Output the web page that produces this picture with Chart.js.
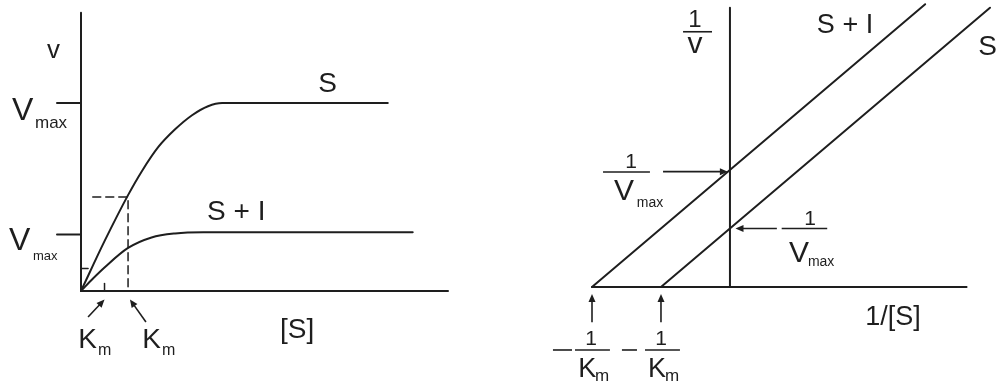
<!DOCTYPE html>
<html>
<head>
<meta charset="utf-8">
<script src="https://cdn.jsdelivr.net/npm/chart.js@4/dist/chart.umd.min.js"></script>
<style>
  html, body { margin: 0; padding: 0; background: #fff; }
  #wrap { position: relative; width: 997px; height: 391px; overflow: hidden; }
  canvas { position: absolute; top: 0; }
  #mm { left: 0; }
  #lb { left: 500px; }
</style>
</head>
<body>
<div id="wrap">
  <canvas id="mm" width="500" height="391"></canvas>
  <canvas id="lb" width="497" height="391"></canvas>
</div>
<script>
'use strict';

// Michaelis-Menten traces: [S] against v, with and without inhibitor
var substrate = [0, 0.5, 1, 1.3, 1.64, 2, 2.36, 2.7, 3.0, 6.52];
var rateS = [0, 0.265, 0.51, 0.64, 0.765, 0.86, 0.935, 0.983, 1.0, 1.0];
var substrateI = [0, 0.25, 0.5, 1, 1.5, 2, 2.6, 7.05];
var rateSI = [0, 0.065, 0.125, 0.229, 0.285, 0.306, 0.312, 0.312];

// kinetic constants marked on the axes (S, S + I)
var vmax = [1, 0.3];
var km = [1, 0.5];

// Lineweaver-Burk lines: 1/[S] against 1/v
var recipS = [-1, 3.77];
var recipRateS = [0, 4.77];
var recipSI = [-2, 2.83];
var recipRateSI = [0, 4.83];
var recipVmax = [1, 2];
var negRecipKm = [-1, -2];

var INK = '#1e1e1e';
var FONT = '"Liberation Sans", Arial, Helvetica, sans-serif';

function pts(xs, ys) {
  return xs.map(function (x, i) { return { x: x, y: ys[i] }; });
}

function seg(data, opts) {
  var ds = {
    data: data,
    showLine: true,
    borderColor: INK,
    borderWidth: 2,
    pointRadius: 0,
    fill: false,
    clip: false,
  };
  if (opts) Object.keys(opts).forEach(function (k) { ds[k] = opts[k]; });
  return ds;
}

function text(ctx, str, x, y, size, align) {
  ctx.font = size + 'px ' + FONT;
  ctx.textAlign = align || 'left';
  ctx.textBaseline = 'alphabetic';
  ctx.fillStyle = INK;
  ctx.fillText(str, x, y);
}

function line(ctx, x1, y1, x2, y2, w) {
  ctx.beginPath();
  ctx.moveTo(x1, y1);
  ctx.lineTo(x2, y2);
  ctx.lineWidth = w || 1.6;
  ctx.strokeStyle = INK;
  ctx.stroke();
}

function arrow(ctx, x1, y1, x2, y2) {
  var a = Math.atan2(y2 - y1, x2 - x1);
  var len = 8, half = 3.5;
  line(ctx, x1, y1, x2 - Math.cos(a) * len * 0.6, y2 - Math.sin(a) * len * 0.6, 1.6);
  ctx.beginPath();
  ctx.moveTo(x2, y2);
  ctx.lineTo(x2 - Math.cos(a) * len - Math.sin(a) * half, y2 - Math.sin(a) * len + Math.cos(a) * half);
  ctx.lineTo(x2 - Math.cos(a) * len + Math.sin(a) * half, y2 - Math.sin(a) * len - Math.cos(a) * half);
  ctx.closePath();
  ctx.fillStyle = INK;
  ctx.fill();
}

function baseOptions(pad, xr, yr) {
  return {
    responsive: false,
    animation: false,
    events: [],
    layout: { padding: pad },
    elements: { line: { borderCapStyle: 'round' } },
    scales: {
      x: { type: 'linear', min: xr[0], max: xr[1], display: false },
      y: { type: 'linear', min: yr[0], max: yr[1], display: false },
    },
    plugins: { legend: { display: false }, tooltip: { enabled: false } },
  };
}

// ---- left: v against [S] ----
var mmLabels = {
  id: 'mmLabels',
  afterDraw: function (chart) {
    var ctx = chart.ctx;
    var px = function (v) { return chart.scales.x.getPixelForValue(v); };
    var py = function (v) { return chart.scales.y.getPixelForValue(v); };
    ctx.save();
    text(ctx, 'v', px(-0.72), py(1.24), 26);
    text(ctx, 'S', px(5.04), py(1.06), 28);
    text(ctx, 'S + I', px(2.68), py(0.38), 28);
    text(ctx, '[S]', px(4.23), py(-0.25), 28);

    text(ctx, 'V', px(-1.467), py(0.91), 32);
    text(ctx, 'max', px(-0.978), py(0.867), 17);
    text(ctx, 'V', px(-1.53), py(0.218), 32);
    text(ctx, 'max', px(-1.02), py(0.165), 13);

    text(ctx, 'K', px(-0.06), py(-0.303), 28);
    text(ctx, 'm', px(0.36), py(-0.34), 16);
    text(ctx, 'K', px(1.3), py(-0.303), 28);
    text(ctx, 'm', px(1.72), py(-0.34), 16);

    arrow(ctx, px(0.15), py(-0.138), px(km[1]), py(-0.045));
    arrow(ctx, px(1.38), py(-0.165), px(km[0] + 0.04), py(-0.045));
    ctx.restore();
  },
};

new Chart(document.getElementById('mm'), {
  type: 'scatter',
  data: {
    datasets: [
      seg(pts([0, 0], [0, 1.48])),
      seg(pts([0, 7.8], [0, 0])),
      seg(pts([-0.51, 0], [vmax[0], vmax[0]])),
      seg(pts([-0.51, 0], [vmax[1], vmax[1]])),
      seg(pts([0, 0.15], [0.12, 0.12]), { borderWidth: 1.5 }),
      seg(pts([km[1], km[1]], [0, 0.04]), { borderWidth: 1.5 }),
      seg(pts([0.25, km[0], km[0]], [vmax[0] / 2, vmax[0] / 2, 0]), { borderWidth: 1.5, borderDash: [8, 5] }),
      seg(pts(substrate, rateS), { cubicInterpolationMode: 'monotone' }),
      seg(pts(substrateI, rateSI), { cubicInterpolationMode: 'monotone' }),
    ],
  },
  options: baseOptions({ left: 81, right: 52, top: 9, bottom: 100 }, [0, 7.8], [0, 1.5]),
  plugins: [mmLabels],
});

// ---- right: double reciprocal plot ----
var lbLabels = {
  id: 'lbLabels',
  afterDraw: function (chart) {
    var ctx = chart.ctx;
    var px = function (v) { return chart.scales.x.getPixelForValue(v); };
    var py = function (v) { return chart.scales.y.getPixelForValue(v); };
    ctx.save();
    // 1/v
    text(ctx, '1', px(-0.507), py(4.44), 24, 'center');
    line(ctx, px(-0.68), py(4.36), px(-0.26), py(4.36));
    text(ctx, 'v', px(-0.507), py(4.0), 30, 'center');

    text(ctx, 'S + I', px(1.26), py(4.34), 27);
    text(ctx, 'S', px(3.6), py(3.97), 28);
    text(ctx, '1/[S]', px(1.96), py(-0.65), 27);

    // 1/Vmax, with inhibitor
    text(ctx, '1', px(-1.435), py(2.033), 21, 'center');
    line(ctx, px(-1.84), py(1.964), px(-1.16), py(1.964));
    text(ctx, 'V', px(-1.68), py(1.486), 30);
    text(ctx, 'max', px(-1.35), py(1.367), 14);
    arrow(ctx, px(-0.97), py(1.97), px(-0.03), py(1.97));

    // 1/Vmax, substrate only
    text(ctx, '1', px(1.16), py(1.059), 21, 'center');
    line(ctx, px(0.75), py(recipVmax[0]), px(1.41), py(recipVmax[0]));
    text(ctx, 'V', px(0.855), py(0.427), 30);
    text(ctx, 'max', px(1.13), py(0.359), 14);
    arrow(ctx, px(0.68), py(recipVmax[0]), px(0.08), py(recipVmax[0]));

    // -1/Km marks under the intercepts
    negRecipKm.forEach(function (k) {
      arrow(ctx, px(k), py(-0.6), px(k), py(-0.12));
    });
    line(ctx, px(-2.566), py(-1.076), px(-2.29), py(-1.076));
    text(ctx, '1', px(-2.015), py(-0.99), 21, 'center');
    line(ctx, px(-2.247), py(-1.076), px(-1.74), py(-1.076));
    text(ctx, 'K', px(-2.2), py(-1.537), 27);
    text(ctx, 'm', px(-1.957), py(-1.606), 17);

    line(ctx, px(-1.566), py(-1.076), px(-1.348), py(-1.076));
    text(ctx, '1', px(-1.0), py(-0.99), 21, 'center');
    line(ctx, px(-1.232), py(-1.076), px(-0.725), py(-1.076));
    text(ctx, 'K', px(-1.189), py(-1.537), 27);
    text(ctx, 'm', px(-0.942), py(-1.606), 17);
    ctx.restore();
  },
};

new Chart(document.getElementById('lb'), {
  type: 'scatter',
  data: {
    datasets: [
      seg(pts([0, 0], [0, 4.77])),
      seg(pts([-2, 3.43], [0, 0])),
      seg(pts(recipSI, recipRateSI)),
      seg(pts(recipS, recipRateS)),
    ],
  },
  options: baseOptions({ left: 92, right: 7, top: 6, bottom: 104 }, [-2, 3.77], [0, 4.8]),
  plugins: [lbLabels],
});
</script>
</body>
</html>
